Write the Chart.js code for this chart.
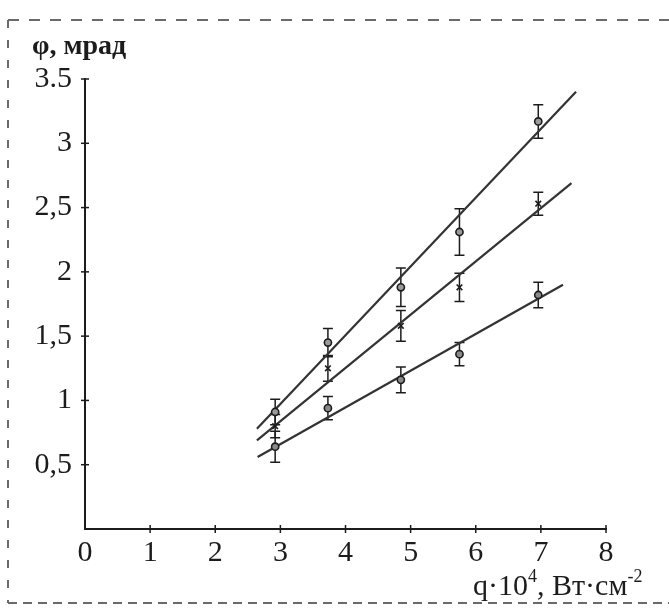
<!DOCTYPE html>
<html lang="ru">
<head>
<meta charset="UTF-8">
<title>φ от q</title>
<script src="https://cdn.jsdelivr.net/npm/chart.js"></script>
<style>
  html, body { margin: 0; padding: 0; background: #fff; }
  #box { width: 669px; height: 616px; }
</style>
</head>
<body>
<div id="box"><canvas id="grafico"></canvas></div>
<script>
// измеренные точки (q·10^4, Вт·см^-2)
const qVals = [2.92, 3.73, 4.85, 5.75, 6.96];
// φ, мрад для трёх серий
const phiTop = [0.91, 1.45, 1.88, 2.31, 3.17];
const phiMid = [0.80, 1.25, 1.58, 1.88, 2.53];
const phiLow = [0.64, 0.94, 1.16, 1.36, 1.82];
// погрешности
const errTop = [0.10, 0.11, 0.15, 0.18, 0.13];
const errMid = [0.09, 0.10, 0.12, 0.11, 0.09];
const errLow = [0.12, 0.09, 0.10, 0.09, 0.10];
// прямые аппроксимации: начало и конец
const fitTopX = [2.64, 7.54], fitTopY = [0.78, 3.40];
const fitMidX = [2.64, 7.47], fitMidY = [0.69, 2.69];
const fitLowX = [2.65, 7.34], fitLowY = [0.56, 1.90];
// подписи делений
const xTickLabels = ['0', '1', '2', '3', '4', '5', '6', '7', '8'];
const yTickLabels = ['', '0,5', '1', '1,5', '2', '2,5', '3', '3.5'];

const ink = '#1c1c1c';
const serif = "'Liberation Serif', 'DejaVu Serif', serif";

function pts(xs, ys) { return xs.map((x, i) => ({ x: x, y: ys[i] })); }

function fitSet(xs, ys) {
    return { data: pts(xs, ys), showLine: true, pointRadius: 0, borderColor: '#333', borderWidth: 2.2, order: 2 };
}
function pointSet(ys, errs, style, fill) {
    return {
        data: pts(qVals, ys), err: errs, showLine: false, pointStyle: style,
        pointRadius: style === 'crossRot' ? 4 : 3.6, pointBorderWidth: 1.6,
        pointBackgroundColor: fill, pointBorderColor: ink, order: 1
    };
}

// рамка, засечки, подписи осей, погрешности
const extras = {
    id: 'extras',
    beforeDatasetsDraw(chart) {
        const c = chart.ctx, sx = chart.scales.x, sy = chart.scales.y;
        c.save();
        c.strokeStyle = ink; c.lineWidth = 1.5;
        chart.data.datasets.forEach(ds => {
            if (!ds.err) return;
            ds.data.forEach((p, i) => {
                const px = sx.getPixelForValue(p.x);
                const y1 = sy.getPixelForValue(p.y + ds.err[i]);
                const y2 = sy.getPixelForValue(p.y - ds.err[i]);
                c.beginPath();
                c.moveTo(px, y1); c.lineTo(px, y2);
                c.moveTo(px - 5, y1); c.lineTo(px + 5, y1);
                c.moveTo(px - 5, y2); c.lineTo(px + 5, y2);
                c.stroke();
            });
        });
        c.restore();
    },
    afterDraw(chart) {
        const c = chart.ctx, sx = chart.scales.x, sy = chart.scales.y;
        const x0 = sx.getPixelForValue(0), y0 = sy.getPixelForValue(0);
        c.save();
        // засечки через ось
        c.strokeStyle = ink; c.lineWidth = 1.5;
        sy.ticks.forEach(t => {
            if (t.value === 0) return;
            const py = sy.getPixelForValue(t.value);
            c.beginPath(); c.moveTo(x0 - 4, py); c.lineTo(x0 + 4, py); c.stroke();
        });
        sx.ticks.forEach(t => {
            if (t.value === 0) return;
            const px = sx.getPixelForValue(t.value);
            c.beginPath(); c.moveTo(px, y0 - 4); c.lineTo(px, y0 + 4); c.stroke();
        });

        // пунктирная рамка
        c.strokeStyle = '#6a6a6a'; c.lineWidth = 2;
        c.setLineDash([11, 10]);
        c.beginPath(); c.moveTo(8, 20); c.lineTo(669, 20); c.stroke();
        c.setLineDash([8, 12]);
        c.beginPath(); c.moveTo(8, 20); c.lineTo(8, 603); c.stroke();
        c.setLineDash([9, 6]);
        c.beginPath(); c.moveTo(8, 603); c.lineTo(669, 603); c.stroke();
        c.setLineDash([]);

        // подписи осей
        c.fillStyle = ink;
        c.textBaseline = 'alphabetic';
        c.font = 'bold 28px ' + serif;
        c.fillText('φ, мрад', 32, 54);

        let x = 473;
        const base = 595;
        const part = (txt, size, dy) => {
            c.font = size + 'px ' + serif;
            c.fillText(txt, x, base + dy);
            x += c.measureText(txt).width;
        };
        part('q·10', 30, 0);
        part('4', 18, -13);
        part(', Вт·см', 30, 0);
        part('-2', 18, -13);
        c.restore();
    }
};

new Chart(document.getElementById('grafico'), {
    type: 'scatter',
    data: {
        datasets: [
            fitSet(fitTopX, fitTopY),
            fitSet(fitMidX, fitMidY),
            fitSet(fitLowX, fitLowY),
            pointSet(phiTop, errTop, 'circle', '#9a9a9a'),
            pointSet(phiMid, errMid, 'crossRot', ink),
            pointSet(phiLow, errLow, 'circle', '#8a8a8a')
        ]
    },
    options: {
        responsive: true,
        maintainAspectRatio: false,
        animation: false,
        layout: { padding: { left: 0, top: 79, right: 63, bottom: 0 } },
        plugins: { legend: { display: false }, tooltip: { enabled: false } },
        scales: {
            x: {
                type: 'linear', min: 0, max: 8,
                grid: { display: false },
                border: { display: true, color: ink, width: 2 },
                ticks: {
                    stepSize: 1, padding: -2, color: ink,
                    font: { family: serif, size: 30 },
                    maxRotation: 0,
                    callback: (v, i) => xTickLabels[i]
                },
                afterFit: s => { s.height = 87; }
            },
            y: {
                type: 'linear', min: 0, max: 3.5,
                grid: { display: false },
                border: { display: true, color: ink, width: 2 },
                ticks: {
                    stepSize: 0.5, padding: 5, color: ink,
                    font: { family: serif, size: 30 },
                    callback: (v, i) => yTickLabels[i]
                },
                afterFit: s => { s.width = 85; }
            }
        }
    },
    plugins: [extras]
});
</script>
</body>
</html>
